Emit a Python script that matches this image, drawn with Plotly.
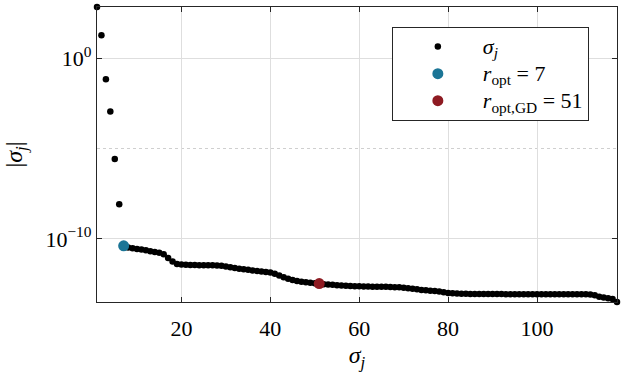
import plotly.graph_objects as go
import numpy as np

# singular value index
idx = list(range(1, 119))

# singular values |sigma_j| (log scale)
sigma = [
    6.92e2, 1.86e1, 6.92e-2, 1.12e-3, 2.69e-6, 8.32e-9, 4.17e-11, 3.39e-11, 3.09e-11, 2.82e-11,
    2.63e-11, 2.34e-11, 2.09e-11, 1.91e-11, 1.74e-11, 1.41e-11, 8.91e-12, 5.62e-12, 4.17e-12, 3.80e-12,
    3.72e-12, 3.63e-12, 3.63e-12, 3.55e-12, 3.55e-12, 3.47e-12, 3.47e-12, 3.39e-12, 3.24e-12, 2.95e-12,
    2.69e-12, 2.45e-12, 2.24e-12, 2.09e-12, 1.95e-12, 1.82e-12, 1.70e-12, 1.58e-12, 1.48e-12, 1.38e-12,
    1.20e-12, 9.55e-13, 7.59e-13, 6.31e-13, 5.37e-13, 4.68e-13, 4.27e-13, 3.98e-13, 3.72e-13, 3.55e-13,
    3.39e-13, 3.16e-13, 3.02e-13, 2.88e-13, 2.75e-13, 2.63e-13, 2.57e-13, 2.51e-13, 2.45e-13, 2.40e-13,
    2.34e-13, 2.34e-13, 2.29e-13, 2.29e-13, 2.24e-13, 2.24e-13, 2.19e-13, 2.14e-13, 2.09e-13, 2.00e-13,
    1.86e-13, 1.74e-13, 1.62e-13, 1.51e-13, 1.45e-13, 1.38e-13, 1.32e-13, 1.23e-13, 1.12e-13, 1.02e-13,
    9.77e-14, 9.55e-14, 9.33e-14, 9.33e-14, 9.12e-14, 9.12e-14, 9.12e-14, 8.91e-14, 8.91e-14, 8.91e-14,
    8.91e-14, 8.91e-14, 8.81e-14, 8.81e-14, 8.81e-14, 8.81e-14, 8.81e-14, 8.81e-14, 8.71e-14, 8.71e-14,
    8.71e-14, 8.71e-14, 8.71e-14, 8.71e-14, 8.71e-14, 8.71e-14, 8.71e-14, 8.71e-14, 8.71e-14, 8.71e-14,
    8.61e-14, 8.51e-14, 7.59e-14, 6.31e-14, 5.75e-14, 5.25e-14, 4.79e-14, 3.24e-14,
]

r_opt = 7
r_opt_gd = 51

x_ticks = [20, 40, 60, 80, 100]
y_ticks = [1, 1e-10]
y_tick_text = ["10<sup>0</sup>", "10<sup>\u221210</sup>"]
y_minor = [1e-5]

FONT = "Liberation Serif, DejaVu Serif, serif"
AX = "#262626"
GRID = "#dedede"


def big(t):
    return '<span style="font-size:22px">' + t + "</span>"


fig = go.Figure()
fig.add_trace(go.Scatter(
    x=idx, y=sigma, mode="markers", name=big("<i>σ<sub>j</sub></i>"),
    marker=dict(color="black", size=6.5), cliponaxis=False,
))
fig.add_trace(go.Scatter(
    x=[r_opt], y=[sigma[r_opt - 1]], mode="markers",
    name=big("<i>r</i><sub>opt</sub> = 7"),
    marker=dict(color="#1b7596", size=11), cliponaxis=False,
))
fig.add_trace(go.Scatter(
    x=[r_opt_gd], y=[sigma[r_opt_gd - 1]], mode="markers",
    name=big("<i>r</i><sub>opt,GD</sub> = 51"),
    marker=dict(color="#8e1b22", size=11), cliponaxis=False,
))

fig.update_layout(
    width=624, height=372,
    margin=dict(l=97, r=7, t=7, b=70),
    plot_bgcolor="white", paper_bgcolor="white",
    font=dict(family=FONT, size=22, color="black"),
    showlegend=True,
    legend=dict(
        x=0.567, y=0.932, xanchor="left", yanchor="top",
        bgcolor="white", bordercolor=AX, borderwidth=1,
        font=dict(family=FONT, size=18.5, color="black"),
        itemwidth=80, tracegroupgap=0,
    ),
)
fig.update_xaxes(
    range=[1, 118], tickvals=x_ticks,
    showline=True, linecolor=AX, linewidth=1.2, mirror="ticks",
    ticks="inside", ticklen=5, tickcolor=AX, tickwidth=1,
    showgrid=True, gridcolor=GRID, gridwidth=1, zeroline=False,
    tickfont=dict(family=FONT, size=22), ticklabelstandoff=6,
    title=dict(text="<i>σ<sub>j</sub></i>", font=dict(family=FONT, size=24), standoff=6),
)
fig.update_yaxes(
    type="log",
    range=[np.log10(min(sigma)), np.log10(max(sigma))],
    tickvals=y_ticks, ticktext=y_tick_text,
    showline=True, linecolor=AX, linewidth=1.2, mirror="ticks",
    ticks="inside", ticklen=5, tickcolor=AX, tickwidth=1,
    showgrid=True, gridcolor=GRID, gridwidth=1, zeroline=False,
    minor=dict(tickvals=y_minor, showgrid=True, gridcolor="#cfcfcf", griddash="dot", ticks=""),
    tickfont=dict(family=FONT, size=22),
    title=dict(text="|<i>σ<sub>j</sub></i>|", font=dict(family=FONT, size=24), standoff=16),
)

fig.write_html(
    "out.html",
    config={"displayModeBar": False},
    post_script="document.body.style.margin='0';",
)
